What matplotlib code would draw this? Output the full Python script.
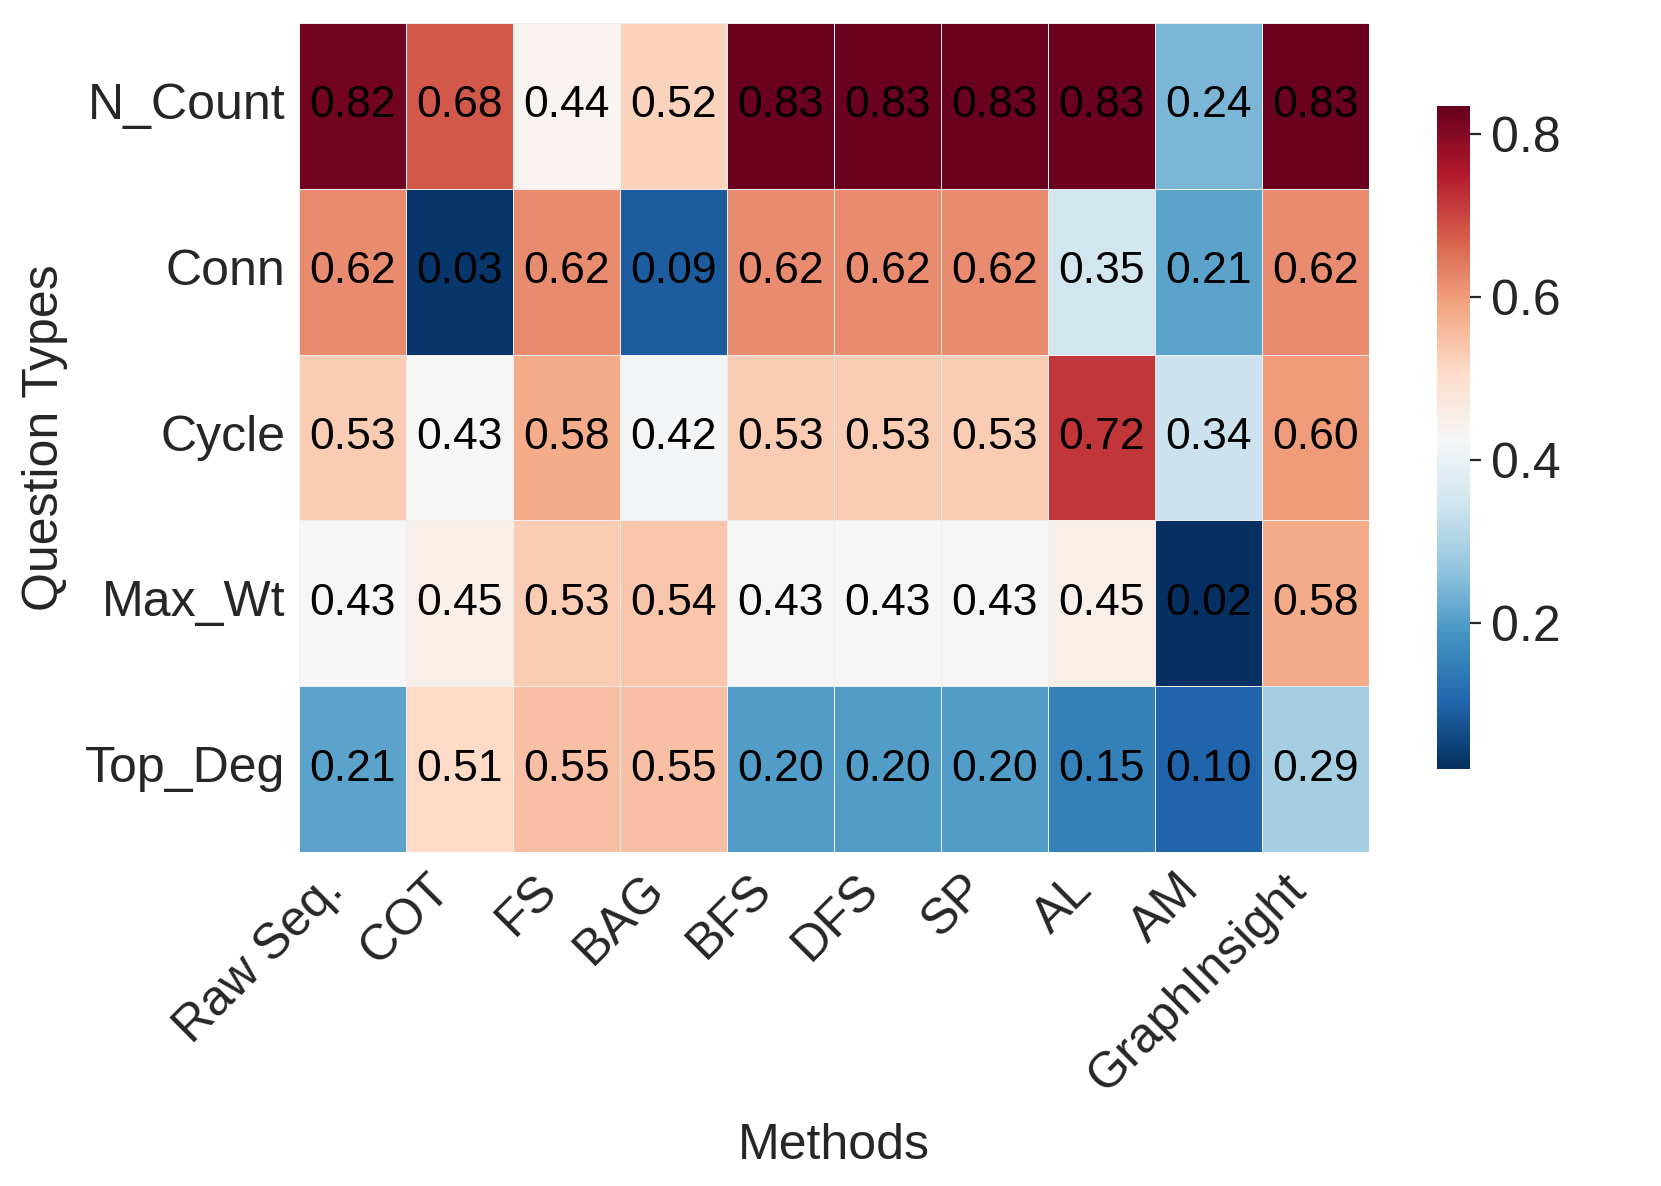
import matplotlib
matplotlib.use("Agg")
import matplotlib.pyplot as plt
import seaborn as sns
import numpy as np
import pandas as pd

methods = ["Raw Seq.", "COT", "FS", "BAG", "BFS", "DFS", "SP", "AL", "AM", "GraphInsight"]
questions = ["N_Count", "Conn", "Cycle", "Max_Wt", "Top_Deg"]

n_count = [0.82, 0.68, 0.44, 0.52, 0.83, 0.83, 0.83, 0.83, 0.24, 0.83]
conn    = [0.62, 0.03, 0.62, 0.09, 0.62, 0.62, 0.62, 0.35, 0.21, 0.62]
cycle   = [0.53, 0.43, 0.58, 0.42, 0.53, 0.53, 0.53, 0.72, 0.34, 0.60]
max_wt  = [0.43, 0.45, 0.53, 0.54, 0.43, 0.43, 0.43, 0.45, 0.02, 0.58]
top_deg = [0.21, 0.51, 0.55, 0.55, 0.20, 0.20, 0.20, 0.15, 0.10, 0.29]

df = pd.DataFrame([n_count, conn, cycle, max_wt, top_deg], index=questions, columns=methods)

sns.set_style("white")
plt.rcParams['font.family'] = ['Liberation Sans', 'DejaVu Sans']

fig = plt.figure(figsize=(8.305, 5.93), dpi=200)
ax = fig.add_axes([0.180, 0.2816, 0.644, 0.699])
cax = fig.add_axes([0.8651, 0.3516, 0.0199, 0.559])

sns.heatmap(df, ax=ax, cbar_ax=cax, cmap="RdBu_r", annot=True, fmt=".2f",
            annot_kws={"fontsize": 16, "color": "black"},
            linewidths=0.3, linecolor="#eeeeee", vmin=0.02, vmax=0.835)

ax.set_xlabel("Methods", fontsize=18, color="#262626", labelpad=8)
ax.set_ylabel("Question Types", fontsize=18, color="#262626", labelpad=6)
ax.tick_params(axis="both", length=0, labelsize=18, colors="#262626")
ax.tick_params(axis="y", pad=5)
ax.tick_params(axis="x", pad=5)
plt.setp(ax.get_xticklabels(), rotation=45, ha="right")
plt.setp(ax.get_yticklabels(), rotation=0)
for t in ax.get_yticklabels():
    t.set_color("#262626")

cax.tick_params(labelsize=18, length=4, width=0.8, colors="#262626", right=True)
cax.set_yticks([0.2, 0.4, 0.6, 0.8])

fig.savefig("out.png", dpi=200)
